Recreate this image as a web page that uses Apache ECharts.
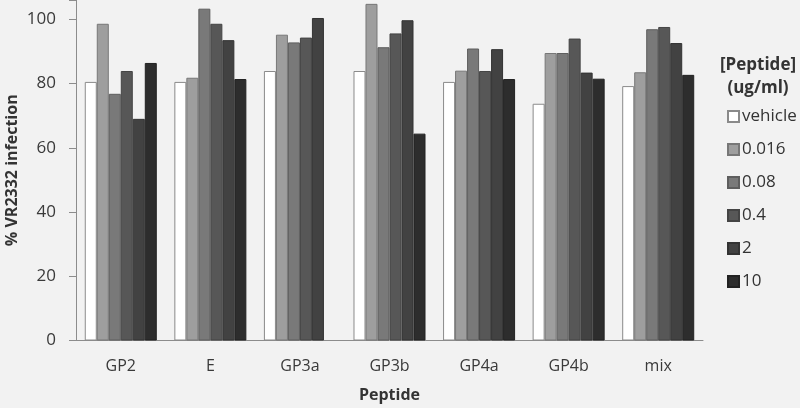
<!DOCTYPE html>
<html>
<head>
<meta charset="utf-8">
<script src="https://cdn.jsdelivr.net/npm/echarts@6/dist/echarts.min.js"></script>
<style>
html,body{margin:0;padding:0;background:#f2f2f2;}
#c{width:800px;height:408px;}
</style>
</head>
<body>
<div id="c"></div>
<script>
const categories = ['GP2', 'E', 'GP3a', 'GP3b', 'GP4a', 'GP4b', 'mix'];
const seriesNames = ['vehicle', '0.016', '0.08', '0.4', '2', '10'];
const vehicle = [80.5, 80.5, 83.9, 83.9, 80.5, 73.7, 79.2];
const c0016   = [98.6, 81.8, 95.2, 104.8, 84.0, 89.5, 83.5];
const c008    = [76.8, 103.3, 92.8, 91.3, 90.9, 89.5, 96.9];
const c04     = [83.9, 98.6, 94.3, 95.6, 83.9, 94.0, 97.6];
const c2      = [69.0, 93.5, 100.4, 99.7, 90.7, 83.4, 92.6];
const c10     = [86.4, 81.4, null, 64.4, 81.4, 81.5, 82.7];
const yTicks = [0, 20, 40, 60, 80, 100];

const values = [vehicle, c0016, c008, c04, c2, c10];
const colors = ['#ffffff', '#9e9e9e', '#797979', '#575757', '#424242', '#2d2d2d'];
const borders = ['#8a8a8a', '#777777', '#5e5e5e', '#444444', '#333333', '#222222'];
const font = '"Open Sans", "Noto Sans", sans-serif';

const chart = echarts.init(document.getElementById('c'), null, {renderer: 'canvas'});
chart.setOption({
  backgroundColor: '#f2f2f2',
  animation: false,
  textStyle: {fontFamily: font},
  title: {
    text: '[Peptide]\n(ug/ml)',
    left: 758, top: 54,
    padding: 0,
    textAlign: 'center',
    textStyle: {fontFamily: font, fontSize: 17, fontWeight: 'bold', color: '#333', lineHeight: 23}
  },
  legend: {
    orient: 'vertical',
    left: 727, top: 108,
    padding: 0,
    itemWidth: 11, itemHeight: 11,
    itemGap: 16,
    data: seriesNames,
    icon: 'rect',
    textStyle: {fontFamily: font, fontSize: 17, color: '#333', lineHeight: 16, padding: [0, 0, 0, -2]}
  },
  grid: {left: 76, right: 97, top: 0, bottom: 67.5, outerBoundsMode: 'none', containLabel: false},
  xAxis: {
    type: 'category',
    data: categories,
    name: 'Peptide',
    nameLocation: 'middle',
    nameGap: 47,
    nameMoveOverlap: false,
    nameTextStyle: {fontFamily: font, fontSize: 16, fontWeight: 'bold', color: '#333'},
    axisLine: {lineStyle: {color: '#8c8c8c', width: 1}},
    axisTick: {show: false},
    axisLabel: {fontFamily: font, fontSize: 16, color: '#3a3a3a', margin: 18}
  },
  yAxis: {
    type: 'value',
    min: 0, max: 106, interval: 20,
    name: '% VR2332 infection',
    nameLocation: 'middle',
    nameGap: 56,
    nameMoveOverlap: false,
    nameTextStyle: {fontFamily: font, fontSize: 16, fontWeight: 'bold', color: '#333'},
    splitLine: {show: false},
    axisLine: {show: true, lineStyle: {color: '#8c8c8c', width: 1}},
    axisTick: {show: true, length: 7, lineStyle: {color: '#8c8c8c'}},
    axisLabel: {
      fontFamily: font, fontSize: 17, color: '#3a3a3a', margin: 20,
      formatter: v => (yTicks.indexOf(v) >= 0 ? String(v) : '')
    }
  },
  series: seriesNames.map((n, i) => ({
    name: n,
    type: 'bar',
    data: values[i],
    barGap: '0%',
    barCategoryGap: '19.6%',
    itemStyle: {color: colors[i], borderColor: borders[i], borderWidth: 1}
  }))
});
</script>
</body>
</html>
